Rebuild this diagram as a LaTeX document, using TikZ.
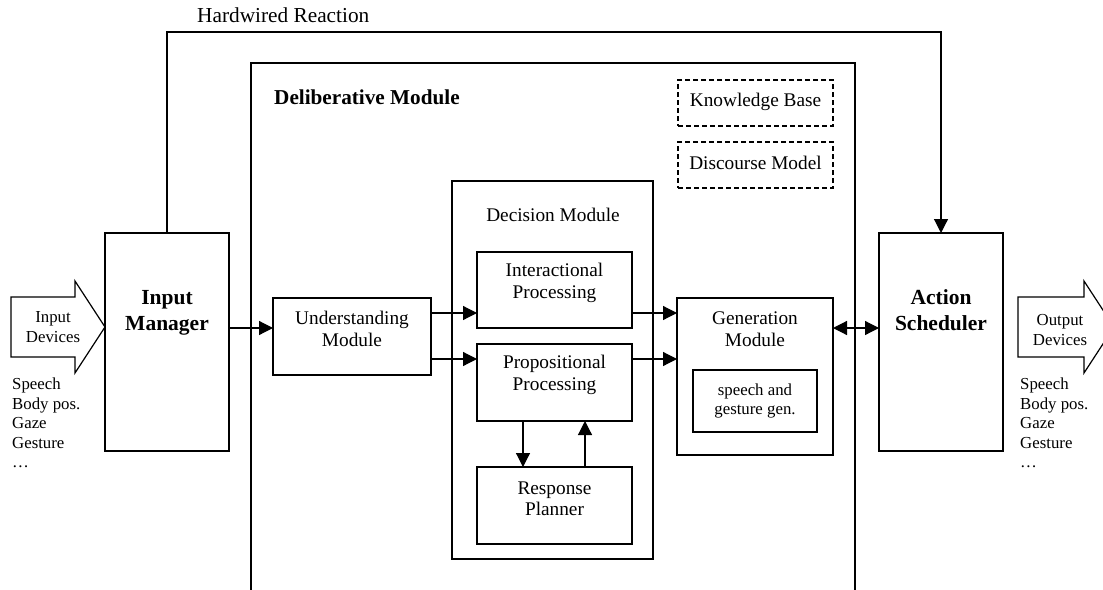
\documentclass[tikz,border=0pt]{standalone}
\usepackage{fontspec}
\setmainfont{Liberation Serif}
\usetikzlibrary{arrows.meta}
\begin{document}
\begin{tikzpicture}[x=1pt,y=-1pt,
  box/.style={draw,line width=1.2pt,inner sep=0pt,outer sep=0pt},
  dbox/.style={draw,line width=1.5pt,dash pattern=on 5pt off 3pt,inner sep=0pt,outer sep=0pt},
  txt/.style={font=\fontsize{19.3}{21.5}\selectfont,align=center,inner sep=0pt},
  stxt/.style={font=\fontsize{16.8}{19.5}\selectfont,align=left,inner sep=0pt},
  btxt/.style={font=\fontsize{21.5}{26}\selectfont\bfseries,align=center,inner sep=0pt},
  arr/.style={line width=1.2pt,-{Triangle[length=14pt,width=14pt]}},
  darr/.style={line width=1.2pt,{Triangle[length=14pt,width=14pt]}-{Triangle[length=14pt,width=14pt]}}]
\useasboundingbox (0,0) rectangle (1103,589);
% deliberative module (open at bottom)
\draw[line width=1.2pt] (251,595) -- (251,63) -- (855,63) -- (855,595);
\node[btxt,font=\fontsize{21.2}{24}\selectfont\bfseries,anchor=west] (dlab) at (274,97) {Deliberative Module};
% boxes
\node[box,minimum width=124,minimum height=218] (im) at (167,342) {};
\node[box,minimum width=124,minimum height=218] (as) at (941,342) {};
\node[box,minimum width=158,minimum height=77] (um) at (352,336.5) {};
\node[box,minimum width=201,minimum height=378] (dm) at (552.5,370) {};
\node[box,minimum width=155,minimum height=76] (ip) at (554.5,290) {};
\node[box,minimum width=155,minimum height=77] (pp) at (554.5,382.5) {};
\node[box,minimum width=155,minimum height=77] (rp) at (554.5,505.5) {};
\node[box,minimum width=156,minimum height=157] (gm) at (755,376.5) {};
\node[box,minimum width=124,minimum height=62] (sg) at (755,401) {};
\node[dbox,minimum width=155,minimum height=46] (kb) at (755.5,103) {};
\node[dbox,minimum width=155,minimum height=46] (dmod) at (755.5,165) {};
% labels
\node[btxt,anchor=base] (imt) at (167,330) {Input\\Manager};
\node[btxt,anchor=base] (ast) at (941,330) {Action\\Scheduler};
\node[txt] (umt) at (352,329) {Understanding\\Module};
\node[txt] (dmt) at (553,215) {Decision Module};
\node[txt] (ipt) at (554.5,283) {Interactional\\Processing};
\node[txt] (ppt) at (554.5,375) {Propositional\\Processing};
\node[txt] (rpt) at (554.5,499) {Response\\Planner};
\node[txt] (gmt) at (755,329) {Generation\\Module};
\node[stxt,align=center] (sgt) at (755,401) {speech and\\gesture gen.};
\node[txt] (kbt) at (755.5,102) {Knowledge Base};
\node[txt] (dmodt) at (755.5,163) {Discourse Model};
\node[txt,font=\fontsize{21.3}{24}\selectfont,anchor=west] (hwt) at (197,15) {Hardwired Reaction};
% input / output arrows
\draw[line width=1.2pt] (11,297) -- (75,297) -- (75,281) -- (105,327) -- (75,373) -- (75,357) -- (11,357) -- cycle;
\node[stxt,align=center] (idt) at (53,327) {Input\\Devices};
\draw[line width=1.2pt] (1018,297) -- (1084,297) -- (1084,281) -- (1114,327) -- (1084,373) -- (1084,357) -- (1018,357) -- cycle;
\node[stxt,align=center] (odt) at (1060,330) {Output\\Devices};
\node[stxt,anchor=north west] (inl) at (12,378) {Speech\\Body pos.\\Gaze\\Gesture\\…};
\node[stxt,anchor=north west] (outl) at (1020,378) {Speech\\Body pos.\\Gaze\\Gesture\\…};
% connectors
\coordinate (ya) at (0,313);
\coordinate (yb) at (0,359);
\coordinate (yc) at (0,328);
\coordinate (xa) at (523,0);
\coordinate (xb) at (585,0);
\coordinate (hw) at (500,32);
\draw[arr] (im.east |- yc) -- (um.west |- yc);
\draw[arr] (um.east |- ya) -- (ip.west |- ya);
\draw[arr] (um.east |- yb) -- (pp.west |- yb);
\draw[arr] (ip.east |- ya) -- (gm.west |- ya);
\draw[arr] (pp.east |- yb) -- (gm.west |- yb);
\draw[darr] (gm.east |- yc) -- (as.west |- yc);
\draw[arr] (pp.south -| xa) -- (rp.north -| xa);
\draw[arr] (rp.north -| xb) -- (pp.south -| xb);
\draw[arr] (im.north) |- (hw) -| (as.north);
\end{tikzpicture}
\end{document}
